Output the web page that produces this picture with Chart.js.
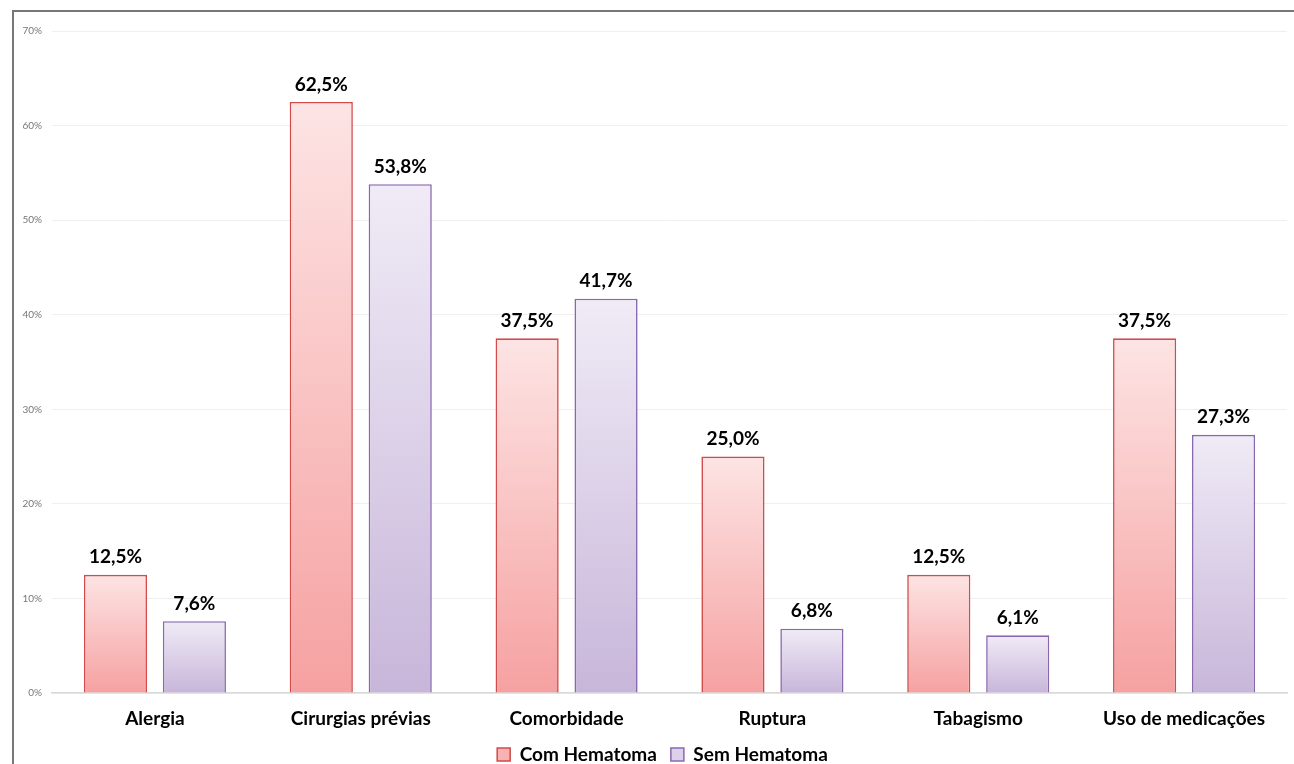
<!DOCTYPE html>
<html>
<head>
<meta charset="utf-8">
<script src="https://cdn.jsdelivr.net/npm/chart.js@4"></script>
<style>
html,body{margin:0;padding:0;background:#fff;overflow:hidden;}
#c{position:absolute;left:0;top:0;}
#frame{position:absolute;left:12px;top:10px;width:1300px;height:770px;border-top:2px solid #777;border-left:2px solid #777;box-sizing:border-box;pointer-events:none;}
</style>
</head>
<body>
<canvas id="c" width="1294" height="764"></canvas>
<div id="frame"></div>
<script>
const categories = ["Alergia","Cirurgias prévias","Comorbidade","Ruptura","Tabagismo","Uso de medicações"];
const comHematoma = [12.5, 62.5, 37.5, 25.0, 12.5, 37.5];
const semHematoma = [7.6, 53.8, 41.7, 6.8, 6.1, 27.3];
const yTicks = [0,10,20,30,40,50,60,70];
const seriesNames = ["Com Hematoma","Sem Hematoma"];

const FONT = "Lato, 'Open Sans', sans-serif";

function grad(top, bottom){
  return function(ctx){
    const chart = ctx.chart;
    if (ctx.type !== 'data' || !chart.chartArea || !chart.scales.y) return bottom;
    const ys = chart.scales.y;
    const y0 = ys.getPixelForValue(ctx.raw);
    const y1 = ys.getPixelForValue(0);
    if (!isFinite(y0) || !isFinite(y1) || y0 === y1) return bottom;
    const g = chart.ctx.createLinearGradient(0, y0, 0, y1);
    g.addColorStop(0, top);
    g.addColorStop(1, bottom);
    return g;
  };
}

const valueLabels = {
  id:'valueLabels',
  afterDatasetsDraw(chart){
    const c = chart.ctx;
    c.save();
    c.font = "bold 19px " + FONT;
    c.fillStyle = "#000";
    c.textAlign = "center";
    c.textBaseline = "bottom";
    chart.data.datasets.forEach((ds, i) => {
      const meta = chart.getDatasetMeta(i);
      meta.data.forEach((bar, j) => {
        const v = ds.data[j];
        c.fillText(v.toFixed(1).replace('.', ',') + '%', bar.x, bar.y - 8);
      });
    });
    c.restore();
  }
};

const legendShift = {
  id:'legendShift',
  afterLayout(chart){
    const lg = chart.legend;
    if (lg) { lg.left += 19; lg.right += 19; }
  }
};

new Chart(document.getElementById('c'), {
  type:'bar',
  data:{
    labels: categories,
    datasets:[
      {label: seriesNames[0], data: comHematoma,
       backgroundColor: grad('#fde4e4','#f6a1a1'), borderColor:'#d24a4a', borderWidth:1.6,
       legendFill:'#f7b3b3'},
      {label: seriesNames[1], data: semHematoma,
       backgroundColor: grad('#f0ebf6','#c8b6da'), borderColor:'#8a68b0', borderWidth:1.6,
       legendFill:'#dcd0ea'}
    ]
  },
  options:{
    responsive:false,
    animation:false,
    events:[],
    datasets:{bar:{categoryPercentage:0.767, barPercentage:0.8}},
    layout:{padding:{left:0, right:7, top:31, bottom:-10}},
    scales:{
      x:{
        afterFit(scale){ scale.height = 38; },
        grid:{display:false, drawTicks:false},
        border:{display:true, color:'#d9d9d9', width:1.5},
        ticks:{font:{family:FONT, size:19, weight:'bold'}, color:'#000', padding:14, maxRotation:0, minRotation:0, autoSkip:false}
      },
      y:{
        min:0, max:70,
        afterBuildTicks(scale){ scale.ticks = yTicks.map(v => ({value:v})); },
        afterFit(scale){ scale.width = 52; },
        grid:{color:'#efefef', drawTicks:false},
        border:{display:false},
        ticks:{font:{family:FONT, size:10}, color:'#777', padding:10, callback:v => v + '%'}
      }
    },
    plugins:{
      tooltip:{enabled:false},
      legend:{
        position:'bottom',
        labels:{
          font:{family:FONT, size:19, weight:'bold'}, color:'#000',
          boxWidth:13, boxHeight:13, padding:14,
          generateLabels(chart){
            return chart.data.datasets.map((ds,i) => ({
              text: ds.label, fillStyle: ds.legendFill, strokeStyle: ds.borderColor,
              lineWidth:1.5, datasetIndex:i, hidden:false, fontColor:'#000'
            }));
          }
        }
      }
    }
  },
  plugins:[valueLabels, legendShift]
});
</script>
</body>
</html>
